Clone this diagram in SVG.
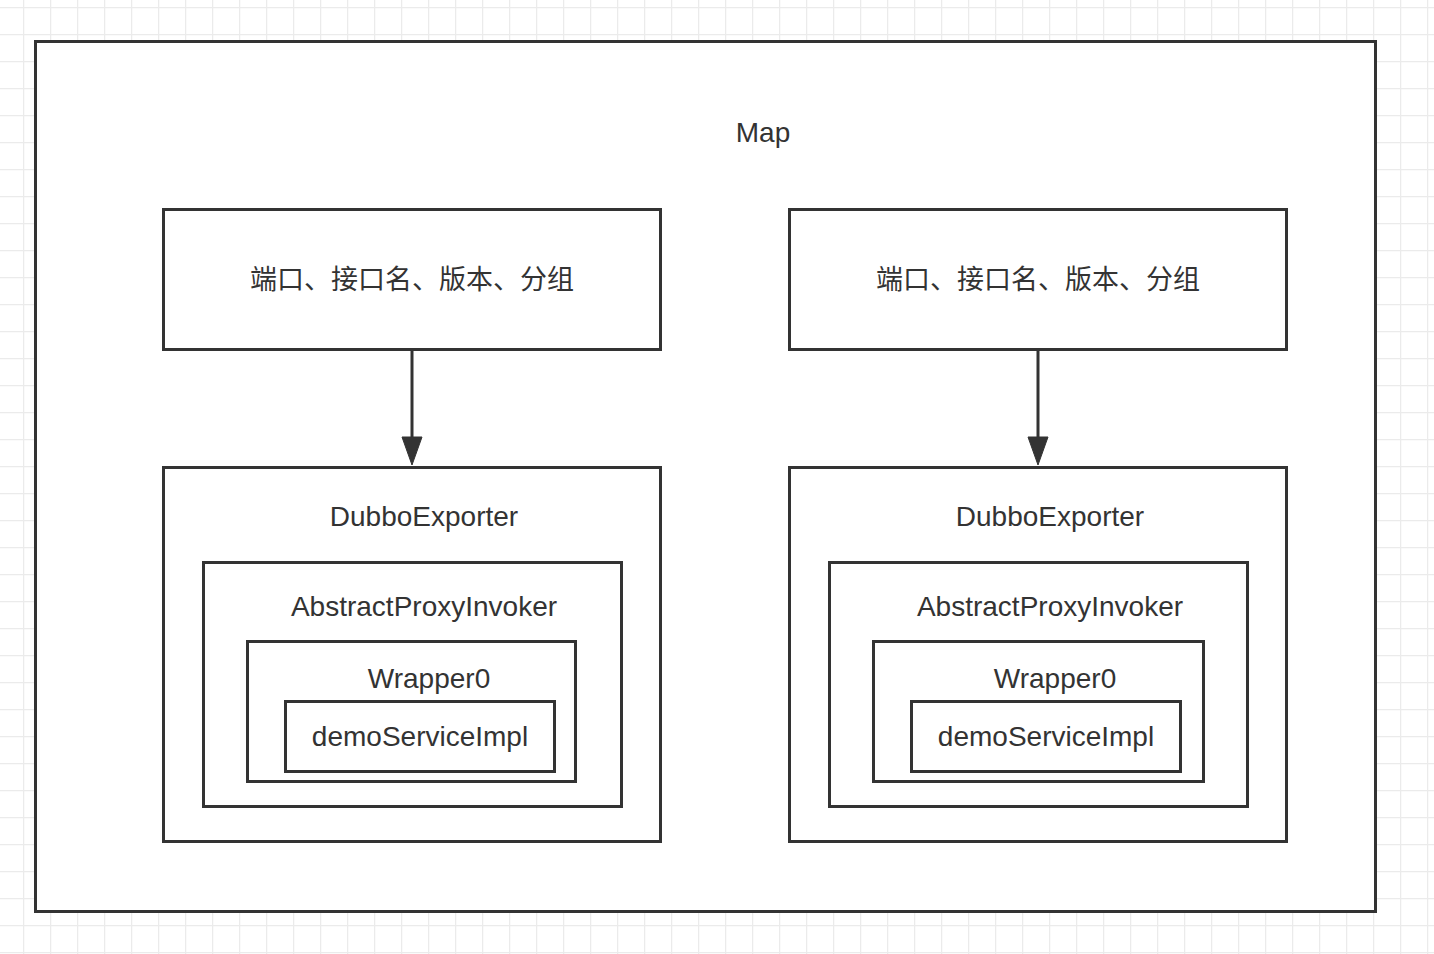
<svg xmlns="http://www.w3.org/2000/svg" width="1434" height="954" viewBox="0 0 1434 954">
<defs>
<pattern id="grid" x="23" y="7" width="27" height="27" patternUnits="userSpaceOnUse">
<path d="M0.5 0V27M0 0.5H27" fill="none" stroke="#ebebeb" stroke-width="1.5"/>
</pattern>
</defs>
<style>
.box{fill:#fff;stroke:#333;stroke-width:3}
.t{font-family:"Liberation Sans","Noto Sans CJK SC",sans-serif;font-size:28px;fill:#333;text-anchor:middle}
.c{font-family:"Noto Sans CJK SC",sans-serif;font-size:27px;fill:#333;text-anchor:middle}
.ln{stroke:#333;stroke-width:3;fill:none}
.ah{fill:#333;stroke:#333;stroke-width:1}
</style>
<rect width="1434" height="954" fill="#fff"/>
<rect width="1434" height="954" fill="url(#grid)"/>
<g id="map">
<rect class="box" x="35.5" y="41.5" width="1340" height="870"/>
<text class="t" x="763" y="142">Map</text>
</g>
<g id="key-left">
<rect class="box" x="163.5" y="209.5" width="497" height="140"/>
<text class="c" x="412" y="289">端口、接口名、版本、分组</text>
</g>
<g id="key-right">
<rect class="box" x="789.5" y="209.5" width="497" height="140"/>
<text class="c" x="1038" y="289">端口、接口名、版本、分组</text>
</g>
<g id="exporter-left">
<rect class="box" x="163.5" y="467.5" width="497" height="374"/>
<text class="t" x="424" y="526">DubboExporter</text>
</g>
<g id="invoker-left">
<rect class="box" x="203.5" y="562.5" width="418" height="244"/>
<text class="t" x="424" y="616">AbstractProxyInvoker</text>
</g>
<g id="wrapper-left">
<rect class="box" x="247.5" y="641.5" width="328" height="140"/>
<text class="t" x="429" y="688">Wrapper0</text>
</g>
<g id="impl-left">
<rect class="box" x="285.5" y="701.5" width="269" height="70"/>
<text class="t" x="420" y="746">demoServiceImpl</text>
</g>
<g id="exporter-right">
<rect class="box" x="789.5" y="467.5" width="497" height="374"/>
<text class="t" x="1050" y="526">DubboExporter</text>
</g>
<g id="invoker-right">
<rect class="box" x="829.5" y="562.5" width="418" height="244"/>
<text class="t" x="1050" y="616">AbstractProxyInvoker</text>
</g>
<g id="wrapper-right">
<rect class="box" x="873.5" y="641.5" width="330" height="140"/>
<text class="t" x="1055" y="688">Wrapper0</text>
</g>
<g id="impl-right">
<rect class="box" x="911.5" y="701.5" width="269" height="70"/>
<text class="t" x="1046" y="746">demoServiceImpl</text>
</g>
<g id="connectors">
<line class="ln" x1="412" y1="351" x2="412" y2="440"/>
<polygon class="ah" points="402,437 422,437 412,465"/>
<line class="ln" x1="1038" y1="351" x2="1038" y2="440"/>
<polygon class="ah" points="1028,437 1048,437 1038,465"/>
</g>
</svg>
